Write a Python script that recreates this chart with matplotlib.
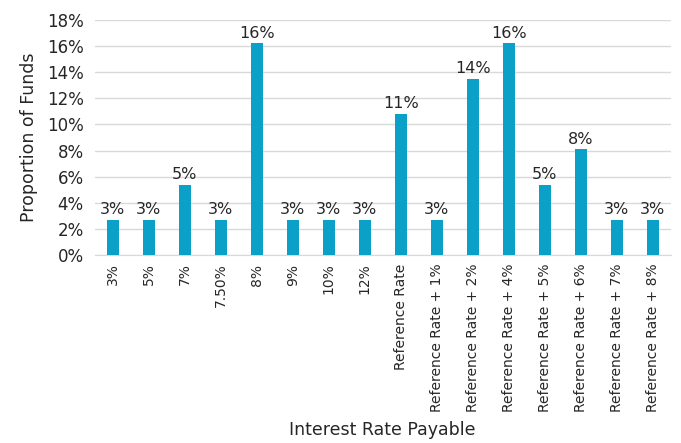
import matplotlib.pyplot as plt
import numpy as np

plt.rcParams['font.family'] = ['DejaVu Sans']

categories = ['3%', '5%', '7%', '7.50%', '8%', '9%', '10%', '12%',
              'Reference Rate', 'Reference Rate + 1%', 'Reference Rate + 2%',
              'Reference Rate + 4%', 'Reference Rate + 5%', 'Reference Rate + 6%',
              'Reference Rate + 7%', 'Reference Rate + 8%']
proportions = [2.7, 2.7, 5.4, 2.7, 16.2, 2.7, 2.7, 2.7,
               10.8, 2.7, 13.5, 16.2, 5.4, 8.1, 2.7, 2.7]

text_color = '#262626'
bar_color = '#0aa0c8'
grid_color = '#d9d9d9'

fig = plt.figure(figsize=(6.81, 4.43), dpi=100)
ax = fig.add_axes([0.139, 0.424, 0.846, 0.531])

x = np.arange(len(categories))
bars = ax.bar(x, proportions, width=0.34, color=bar_color, zorder=3)

# data labels rounded like the original
for xi, v in zip(x, proportions):
    ax.text(xi, v + 0.2, '%d%%' % round(v), ha='center', va='bottom',
            fontsize=11.5, color=text_color)

ax.set_xlim(-0.5, len(categories) - 0.5)
ax.set_ylim(0, 18)
ax.set_yticks(range(0, 19, 2))
ax.set_yticklabels(['%d%%' % t for t in range(0, 19, 2)])
ax.set_xticks(x)
ax.set_xticklabels(categories, rotation=90)

ax.grid(axis='y', color=grid_color, linewidth=1, zorder=0)
for s in ['top', 'right', 'left']:
    ax.spines[s].set_visible(False)
ax.spines['bottom'].set_color(grid_color)
ax.tick_params(axis='both', length=0, colors=text_color)
ax.tick_params(axis='y', labelsize=12, pad=8)
ax.tick_params(axis='x', labelsize=10, pad=6)

ax.set_ylabel('Proportion of Funds', fontsize=12.5, color=text_color, labelpad=6)
fig.text(0.562, 0.008, 'Interest Rate Payable', ha='center', va='bottom',
         fontsize=12.5, color=text_color)

fig.savefig('out.png', dpi=100)
